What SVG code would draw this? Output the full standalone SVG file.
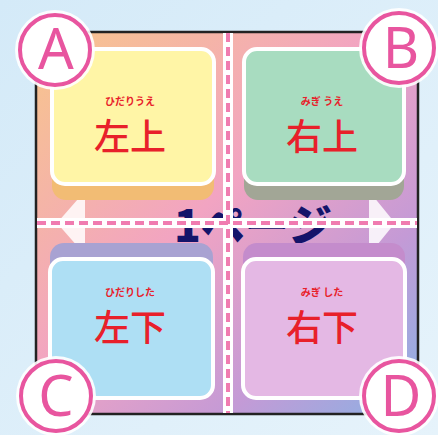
<svg xmlns="http://www.w3.org/2000/svg" width="438" height="435" viewBox="0 0 438 435">
<defs>
<linearGradient id="bg" x1="0" y1="0" x2="1" y2="1">
<stop offset="0" stop-color="#d4eaf8"/><stop offset="1" stop-color="#e6f3fb"/>
</linearGradient>
<linearGradient id="page" x1="0" y1="0" x2="1" y2="1">
<stop offset="0" stop-color="#f8c68a"/><stop offset="0.45" stop-color="#f2a4c2"/><stop offset="0.75" stop-color="#c49ad6"/><stop offset="1" stop-color="#88b2e4"/>
</linearGradient>
<style>
.card{stroke:#ffffff;stroke-width:4}
.furi{font-family:"Noto Sans CJK JP",sans-serif;font-weight:700;font-size:10px;fill:#e8202a;text-anchor:middle}
.kanji{font-family:"Noto Sans CJK JP",sans-serif;font-weight:500;font-size:36px;fill:#e8202a;text-anchor:middle}
.ring{fill:#ffffff;stroke:#e8559f;stroke-width:4}
.halo{fill:#ffffff;opacity:0.9}
.letter{font-family:"Noto Sans","Liberation Sans",sans-serif;font-size:56px;fill:#e8559f;text-anchor:middle}
.dash{stroke:#f07cb0;stroke-width:4;stroke-dasharray:9 5;fill:none}
.band{stroke:#ffffff;stroke-width:10;fill:none}
</style>
</defs>
<rect width="438" height="435" fill="url(#bg)"/>
<g id="page">
<rect x="36" y="32" width="382" height="382" fill="url(#page)" stroke="#222222" stroke-width="2.5"/>
<polygon points="57,223 85,191 85,255" fill="#ffffff" opacity="0.85"/>
<polygon points="395,223 369,191 369,255" fill="#ffffff" opacity="0.85"/>
<text x="253" y="242" font-family="'Noto Sans CJK JP',sans-serif" font-weight="900" font-size="44" fill="#14146a" text-anchor="middle">1ページ</text>
</g>
<g id="cardA">
<rect x="52" y="62" width="162" height="138" rx="14" fill="#f2bc74"/>
<rect class="card" x="52" y="49" width="162" height="135" rx="13" fill="#fff5a6"/>
<text class="furi" x="130" y="105">ひだりうえ</text>
<text class="kanji" x="130" y="150">左上</text>
</g>
<g id="cardB">
<rect x="244" y="62" width="160" height="138" rx="14" fill="#a2a696"/>
<rect class="card" x="244" y="49" width="160" height="135" rx="13" fill="#a8dcc0"/>
<text class="furi" x="322" y="105">みぎ うえ</text>
<text class="kanji" x="322" y="150">右上</text>
</g>
<g id="cardC">
<rect x="50" y="243" width="163" height="140" rx="14" fill="#a8a2d2"/>
<rect class="card" x="50" y="259" width="163" height="139" rx="13" fill="#aedff4"/>
<text class="furi" x="130" y="296">ひだりした</text>
<text class="kanji" x="130" y="341">左下</text>
</g>
<g id="cardD">
<rect x="243" y="243" width="162" height="140" rx="14" fill="#c48ccc"/>
<rect class="card" x="243" y="259" width="162" height="139" rx="13" fill="#e4b8e4"/>
<text class="furi" x="322" y="296">みぎ した</text>
<text class="kanji" x="322" y="341">右下</text>
</g>
<g id="connectors">
<line class="band" x1="37" y1="223" x2="417" y2="223"/>
<line class="band" x1="228" y1="33" x2="228" y2="413"/>
<line class="dash" x1="37" y1="223" x2="417" y2="223"/>
<line class="dash" x1="228" y1="33" x2="228" y2="413"/>
</g>
<g id="markA">
<circle class="halo" cx="55" cy="50" r="40"/>
<circle class="ring" cx="55" cy="50" r="35"/>
<text class="letter" x="56" y="69">A</text>
</g>
<g id="markB">
<circle class="halo" cx="399" cy="48" r="40"/>
<circle class="ring" cx="399" cy="48" r="35"/>
<text class="letter" x="401" y="68">B</text>
</g>
<g id="markC">
<circle class="halo" cx="56" cy="396" r="40"/>
<circle class="ring" cx="56" cy="396" r="35"/>
<text class="letter" x="56" y="416">C</text>
</g>
<g id="markD">
<circle class="halo" cx="399" cy="396" r="40"/>
<circle class="ring" cx="399" cy="396" r="35"/>
<text class="letter" x="401" y="416">D</text>
</g>
</svg>
